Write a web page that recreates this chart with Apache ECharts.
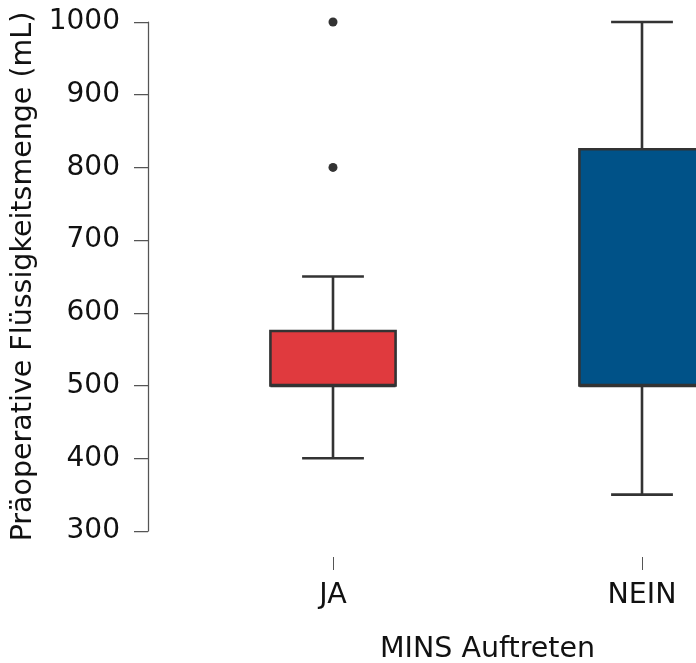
<!DOCTYPE html>
<html><head><meta charset="utf-8">
<script src="https://cdn.jsdelivr.net/npm/echarts@6/dist/echarts.min.js"></script>
<style>html,body{margin:0;padding:0;background:#fff}#c{width:696px;height:663px}</style>
</head><body><div id="c"></div>
<script>
const categories = ['JA', 'NEIN'];
// [min, Q1, median, Q3, max]
const boxStats = [
  [400, 500, 500, 575, 650],
  [350, 500, 500, 825, 1000]
];
const outliers = [[0, 800], [0, 1000]];
const boxColors = ['#E03A3E', '#005288'];
const yTicks = [300, 400, 500, 600, 700, 800, 900, 1000];

const F = 'DejaVu Sans';
const TXT = '#111111';
const chart = echarts.init(document.getElementById('c'), null, {renderer: 'canvas'});
const boxData = boxStats.map((s, i) => [i].concat(s));
chart.setOption({
  animation: false,
  backgroundColor: '#fff',
  grid: {left: 178.5, width: 618, top: 22, height: 509, containLabel: false, outerBoundsMode: 'none'},
  xAxis: {
    type: 'category', data: categories, boundaryGap: true, offset: 26,
    axisLine: {show: false},
    axisTick: {show: true, alignWithLabel: true, length: 13, lineStyle: {color: '#555', width: 1}},
    axisLabel: {fontFamily: F, fontSize: 28.5, color: TXT, margin: 24},
    name: 'MINS Auftreten', nameLocation: 'middle', nameGap: 78,
    nameTextStyle: {fontFamily: F, fontSize: 28.5, color: TXT},
    splitLine: {show: false}
  },
  yAxis: {
    type: 'value', min: 300, max: 1000, interval: 100, offset: 30.5,
    axisLine: {show: true, lineStyle: {color: '#555', width: 1.25}},
    axisTick: {show: true, length: 14, lineStyle: {color: '#555', width: 1.25}},
    axisLabel: {fontFamily: F, fontSize: 28, color: TXT, margin: 28,
      formatter: v => yTicks.includes(v) ? String(v) : ''},
    splitLine: {show: false},
    name: 'Präoperative Flüssigkeitsmenge (mL)', nameLocation: 'middle', nameGap: 102,
    nameTextStyle: {fontFamily: F, fontSize: 28.5, color: TXT}
  },
  series: [
    {
      type: 'custom',
      data: boxData,
      clip: false,
      encode: {x: 0, y: [1, 2, 3, 4, 5]},
      renderItem: function (params, api) {
        const idx = api.value(0);
        const band = api.size([1, 0])[0];
        const pMin = api.coord([idx, api.value(1)]);
        const pQ1 = api.coord([idx, api.value(2)]);
        const pMed = api.coord([idx, api.value(3)]);
        const pQ3 = api.coord([idx, api.value(4)]);
        const pMax = api.coord([idx, api.value(5)]);
        const cx = pMin[0];
        const bw = band * 0.405;
        const cw = band * 0.2;
        const stroke = '#333333';
        const lw = 2.6;
        return {
          type: 'group',
          children: [
            {type: 'line', shape: {x1: cx, y1: pQ1[1], x2: cx, y2: pMin[1]}, style: {stroke, lineWidth: lw}},
            {type: 'line', shape: {x1: cx, y1: pQ3[1], x2: cx, y2: pMax[1]}, style: {stroke, lineWidth: lw}},
            {type: 'line', shape: {x1: cx - cw / 2, y1: pMin[1], x2: cx + cw / 2, y2: pMin[1]}, style: {stroke, lineWidth: lw}},
            {type: 'line', shape: {x1: cx - cw / 2, y1: pMax[1], x2: cx + cw / 2, y2: pMax[1]}, style: {stroke, lineWidth: lw}},
            {type: 'rect', shape: {x: cx - bw / 2, y: pQ3[1], width: bw, height: pQ1[1] - pQ3[1]},
              style: {fill: boxColors[idx], stroke, lineWidth: lw}},
            {type: 'line', shape: {x1: cx - bw / 2, y1: pMed[1], x2: cx + bw / 2, y2: pMed[1]}, style: {stroke, lineWidth: lw + 1}}
          ]
        };
      }
    },
    {
      type: 'scatter', data: outliers, symbol: 'circle', symbolSize: 9,
      itemStyle: {color: '#333333', opacity: 1}
    }
  ]
});
</script></body></html>
